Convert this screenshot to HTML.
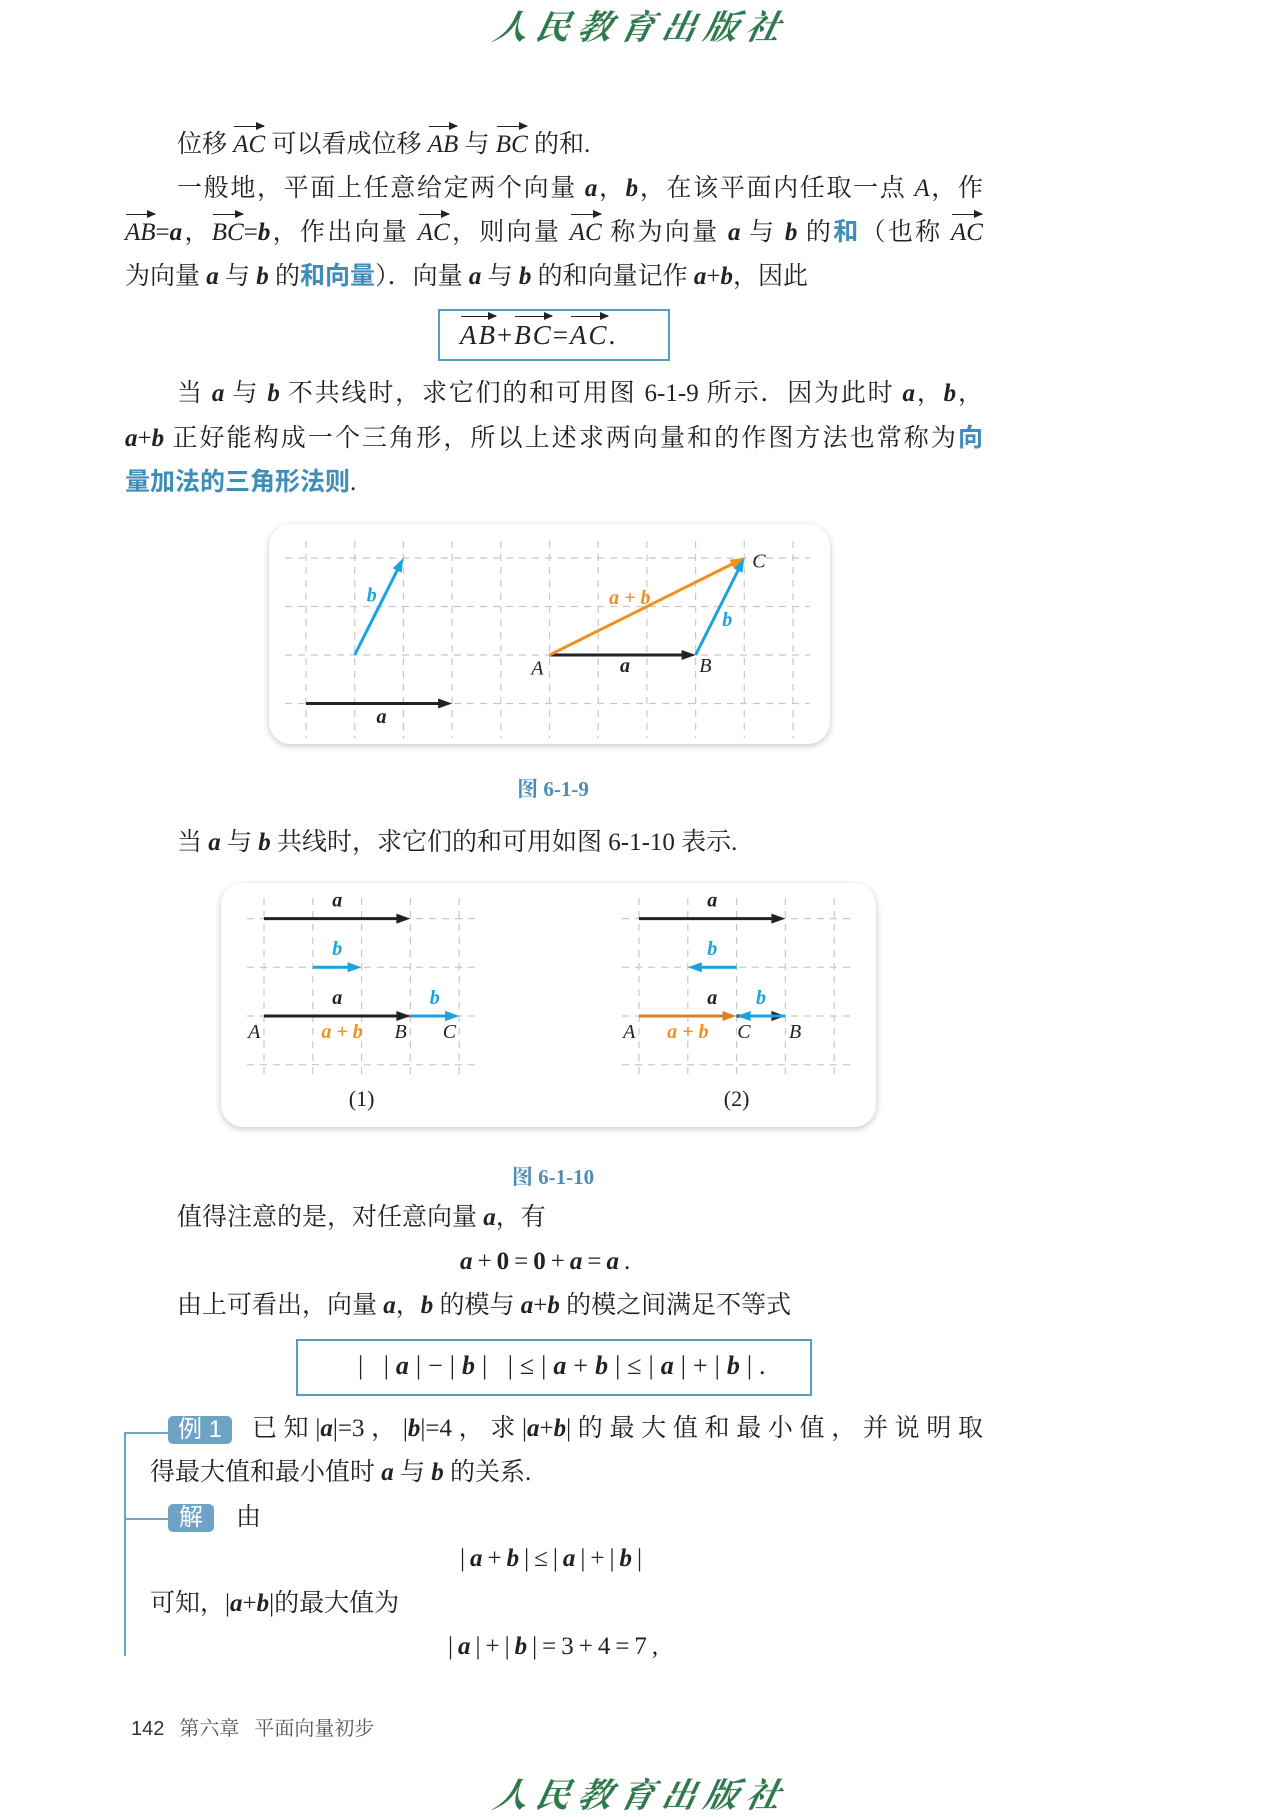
<!DOCTYPE html>
<html><head><meta charset="utf-8">
<style>
body{margin:0;width:1275px;height:1800px;background:#fff;position:relative;overflow:hidden;font-family:"Liberation Serif","Noto Serif CJK SC",serif;color:#222}
.ln{position:absolute;font-size:25px;line-height:36px;white-space:nowrap}
.f{letter-spacing:5px}
.j{text-align:justify;text-align-last:justify}
i{font-style:italic}
b.v{font-style:italic;font-weight:bold}
.bl{color:#3f8db8;font-family:"Liberation Sans","Noto Sans CJK SC",sans-serif;font-weight:bold}
.vec{position:relative;display:inline-block;font-style:italic}
.vec::before{content:"";position:absolute;left:1px;right:1px;top:-1px;border-top:1.5px solid #222}
.vec::after{content:"";position:absolute;right:0;top:-5px;border-left:9px solid #222;border-top:4px solid transparent;border-bottom:4px solid transparent}
.logo{position:absolute;color:#2f7a4c;font-family:"Noto Serif CJK SC",serif;font-style:italic;font-size:34px;letter-spacing:8px;font-weight:bold;transform:skewX(-12deg)}
.box{position:absolute;border:2px solid #5a9cc0}
.tag{position:absolute;background:#6ea3c5;color:#fff;border-radius:5px;font-family:"Liberation Sans","Noto Sans CJK SC",sans-serif;font-size:24px;line-height:28px;text-align:center}
.cap{position:absolute;color:#4a8db5;font-weight:bold;font-size:21px;transform:translateX(-50%)}
.card{position:absolute;background:#fff;border-radius:22px;box-shadow:0 2px 7px rgba(0,0,0,.22)}
</style></head><body>
<div class="logo" style="left:495px;top:0px">人民教育出版社</div>

<div class="ln" style="left:177px;top:127px">位移 <span class="vec">AC</span> 可以看成位移 <span class="vec">AB</span> 与 <span class="vec">BC</span> 的和.</div>
<div class="ln j" style="left:177px;top:171px;width:806px">一般地，平面上任意给定两个向量 <b class="v">a</b>，<b class="v">b</b>，在该平面内任取一点 <i>A</i>，作</div>
<div class="ln j" style="left:125px;top:214px;width:858px"><span class="vec">AB</span>=<b class="v">a</b>，<span class="vec">BC</span>=<b class="v">b</b>，作出向量 <span class="vec">AC</span>，则向量 <span class="vec">AC</span> 称为向量 <b class="v">a</b> 与 <b class="v">b</b> 的<span class="bl">和</span>（也称 <span class="vec">AC</span></div>
<div class="ln" style="left:125px;top:258px">为向量 <b class="v">a</b> 与 <b class="v">b</b> 的<span class="bl">和向量</span>）．向量 <b class="v">a</b> 与 <b class="v">b</b> 的和向量记作 <b class="v">a</b>+<b class="v">b</b>，因此</div>
<div class="box" style="left:438px;top:309px;width:228px;height:48px"></div>
<div class="ln" style="left:460px;top:317px;font-size:27px;letter-spacing:2px"><span class="vec">AB</span>+<span class="vec">BC</span>=<span class="vec">AC</span>.</div>
<div class="ln j" style="left:177px;top:376px;width:806px">当 <b class="v">a</b> 与 <b class="v">b</b> 不共线时，求它们的和可用图 6-1-9 所示．因为此时 <b class="v">a</b>，<b class="v">b</b>，</div>
<div class="ln j" style="left:125px;top:420px;width:858px"><b class="v">a</b>+<b class="v">b</b> 正好能构成一个三角形，所以上述求两向量和的作图方法也常称为<span class="bl">向</span></div>
<div class="ln" style="left:125px;top:464px"><span class="bl">量加法的三角形法则</span>.</div>

<div class="card" style="left:269px;top:524px;width:561px;height:220px"></div>
<svg id="f1" style="position:absolute;left:0;top:0" width="1275" height="1800"></svg>
<div class="cap" style="left:553px;top:773px">图 6-1-9</div>

<div class="ln" style="left:177px;top:825px">当 <b class="v">a</b> 与 <b class="v">b</b> 共线时，求它们的和可用如图 6-1-10 表示.</div>
<div class="card" style="left:221px;top:883px;width:655px;height:244px"></div>
<svg id="f2" style="position:absolute;left:0;top:0" width="1275" height="1800"></svg>
<div class="cap" style="left:553px;top:1161px">图 6-1-10</div>

<div class="ln" style="left:177px;top:1200px">值得注意的是，对任意向量 <b class="v">a</b>，有</div>
<div class="ln f" style="left:460px;top:1244px"><b class="v">a</b>+<b>0</b>=<b>0</b>+<b class="v">a</b>=<b class="v">a</b>.</div>
<div class="ln" style="left:177px;top:1288px">由上可看出，向量 <b class="v">a</b>，<b class="v">b</b> 的模与 <b class="v">a</b>+<b class="v">b</b> 的模之间满足不等式</div>
<div class="box" style="left:296px;top:1339px;width:512px;height:53px"></div>
<div class="ln" style="left:358px;top:1348px;letter-spacing:7px;font-size:26px">| |<b class="v">a</b>|−|<b class="v">b</b>| |≤|<b class="v">a</b>+<b class="v">b</b>|≤|<b class="v">a</b>|+|<b class="v">b</b>|.</div>

<div style="position:absolute;left:124px;top:1432px;width:2px;height:224px;background:#6ea3c5"></div>
<div style="position:absolute;left:124px;top:1432px;width:46px;height:2px;background:#6ea3c5"></div>
<div style="position:absolute;left:126px;top:1518px;width:44px;height:2px;background:#6ea3c5"></div>
<div class="tag" style="left:168px;top:1416px;width:64px">例 1</div>
<div class="tag" style="left:168px;top:1504px;width:46px">解</div>
<div class="ln j" style="left:252px;top:1411px;width:731px">已知|<b class="v">a</b>|=3，|<b class="v">b</b>|=4，求|<b class="v">a</b>+<b class="v">b</b>|的最大值和最小值，并说明取</div>
<div class="ln" style="left:150px;top:1455px">得最大值和最小值时 <b class="v">a</b> 与 <b class="v">b</b> 的关系.</div>
<div class="ln" style="left:236px;top:1500px">由</div>
<div class="ln f" style="left:460px;top:1541px">|<b class="v">a</b>+<b class="v">b</b>|≤|<b class="v">a</b>|+|<b class="v">b</b>|</div>
<div class="ln" style="left:150px;top:1586px">可知，|<b class="v">a</b>+<b class="v">b</b>|的最大值为</div>
<div class="ln f" style="left:448px;top:1629px">|<b class="v">a</b>|+|<b class="v">b</b>|=3+4=7,</div>

<div class="ln" style="left:131px;top:1711px;font-size:20px;color:#333"><span style="font-family:'Liberation Sans',sans-serif">142</span>&nbsp;&nbsp;&nbsp;<span style="color:#555">第六章&nbsp;&nbsp;&nbsp;平面向量初步</span></div>
<div class="logo" style="left:495px;top:1768px">人民教育出版社</div>

<script>
// Figure 6-1-9 data (grid units)
const f1Vectors = [
  {name:'b-free', from:[1,0], to:[2,2], color:'#1aa3df'},
  {name:'a-free', from:[0,-1], to:[3,-1], color:'#222'},
  {name:'a-AB', from:[5,0], to:[8,0], color:'#222'},
  {name:'b-BC', from:[8,0], to:[9,2], color:'#1aa3df'},
  {name:'a-plus-b-AC', from:[5,0], to:[9,2], color:'#f0901e'}
];
const f1Labels = [
  ['b',1.35,1.1,'#1aa3df',true],['a',1.55,-1.4,'#222',true],['a + b',6.65,1.05,'#f0901e',true],
  ['b',8.65,0.6,'#1aa3df',true],['C',9.3,1.8,'#222',false],['A',4.75,-0.4,'#222',false],
  ['a',6.55,-0.35,'#222',true],['B',8.2,-0.35,'#222',false]
];
const NS='http://www.w3.org/2000/svg';
function mk(svg,tag,attrs){const e=document.createElementNS(NS,tag);for(const k in attrs)e.setAttribute(k,attrs[k]);svg.appendChild(e);return e;}
function arrow(svg,X,Y,v,name){
  const x1=X(v.from[0]),y1=Y(v.from[1]),x2=X(v.to[0]),y2=Y(v.to[1]);
  const ang=Math.atan2(y2-y1,x2-x1),L=14,W=5;
  const ln=mk(svg,'line',{x1:x1,y1:y1,x2:x2-Math.cos(ang)*L*0.8,y2:y2-Math.sin(ang)*L*0.8,stroke:v.color,'stroke-width':3});
  
  
  const pts=[[x2,y2],[x2-L*Math.cos(ang)+W*Math.sin(ang),y2-L*Math.sin(ang)-W*Math.cos(ang)],[x2-L*Math.cos(ang)-W*Math.sin(ang),y2-L*Math.sin(ang)+W*Math.cos(ang)]];
  const hd=mk(svg,'polygon',{points:pts.map(p=>p.join(',')).join(' '),fill:v.color});
  
  
}
function label(svg,X,Y,l){
  const t=mk(svg,'text',{x:X(l[1]),y:Y(l[2]),fill:l[3],'font-size':20,'font-style':'italic','font-weight':l[4]?'bold':'normal','text-anchor':'middle','font-family':'Liberation Serif, serif'});
  t.textContent=l[0];
  
  
}
function grid(svg,X,Y,nx,ny,x0,x1,y0,y1){
  for(let i=0;i<nx.length;i++){const g=mk(svg,'line',{x1:X(nx[i]),x2:X(nx[i]),y1:y0,y2:y1,stroke:'#c8c8c8','stroke-width':1.2,'stroke-dasharray':'7,6'});}
  for(let j=0;j<ny.length;j++){const g=mk(svg,'line',{y1:Y(ny[j]),y2:Y(ny[j]),x1:x0,x2:x1,stroke:'#c8c8c8','stroke-width':1.2,'stroke-dasharray':'7,6'});}
}
const s1=document.getElementById('f1');
const X1=u=>306+u*48.7, Y1=u=>655-u*48.5;
grid(s1,X1,Y1,[0,1,2,3,4,5,6,7,8,9,10],[2,1,0,-1],285,810,541,738);
f1Vectors.forEach(v=>arrow(s1,X1,Y1,v,v.name));
f1Labels.forEach(l=>label(s1,X1,Y1,l));

// Figure 6-1-10 data
const f2Panels = [
  {origin:264, vecs:[
    {name:'p1-a', from:[0,2], to:[3,2], color:'#222'},
    {name:'p1-b', from:[1,1], to:[2,1], color:'#1aa3df'},
    {name:'p1-sum', from:[0,0], to:[4,0], color:'#d9822b'},
    {name:'p1-a-row3', from:[0,0], to:[3,0], color:'#222'},
    {name:'p1-b-row3', from:[3,0], to:[4,0], color:'#1aa3df'}],
   labels:[['a',1.5,2.25,'#222',true],['b',1.5,1.25,'#1aa3df',true],['a',1.5,0.25,'#222',true],['b',3.5,0.25,'#1aa3df',true],
     ['A',-0.2,-0.45,'#222',false],['a + b',1.6,-0.45,'#f0901e',true],['B',2.8,-0.45,'#222',false],['C',3.8,-0.45,'#222',false]],
   cap:'(1)'},
  {origin:639, vecs:[
    {name:'p2-a', from:[0,2], to:[3,2], color:'#222'},
    {name:'p2-b', from:[2,1], to:[1,1], color:'#1aa3df'},
    {name:'p2-sum', from:[0,0], to:[2,0], color:'#d9822b'},
    {name:'p2-a-row3', from:[2,0], to:[3,0], color:'#222'},
    {name:'p2-b-row3', from:[3,0], to:[2,0], color:'#1aa3df'}],
   labels:[['a',1.5,2.25,'#222',true],['b',1.5,1.25,'#1aa3df',true],['a',1.5,0.25,'#222',true],['b',2.5,0.25,'#1aa3df',true],
     ['A',-0.2,-0.45,'#222',false],['a + b',1.0,-0.45,'#f0901e',true],['C',2.15,-0.45,'#222',false],['B',3.2,-0.45,'#222',false]],
   cap:'(2)'}
];
const s2=document.getElementById('f2');
f2Panels.forEach(p=>{
  const X=u=>p.origin+u*48.8, Y=u=>1016-u*48.7;
  grid(s2,X,Y,[0,1,2,3,4],[2,1,0,-1],p.origin-17,p.origin+212,898,1078);
  p.vecs.forEach(v=>arrow(s2,X,Y,v,v.name));
  p.labels.forEach(l=>label(s2,X,Y,l));
  const t=mk(s2,'text',{x:X(2),y:1106,'font-size':22,'text-anchor':'middle','font-family':'Liberation Serif, serif',fill:'#222'});
  t.textContent=p.cap;
  
  
});
</script>
</body></html>
